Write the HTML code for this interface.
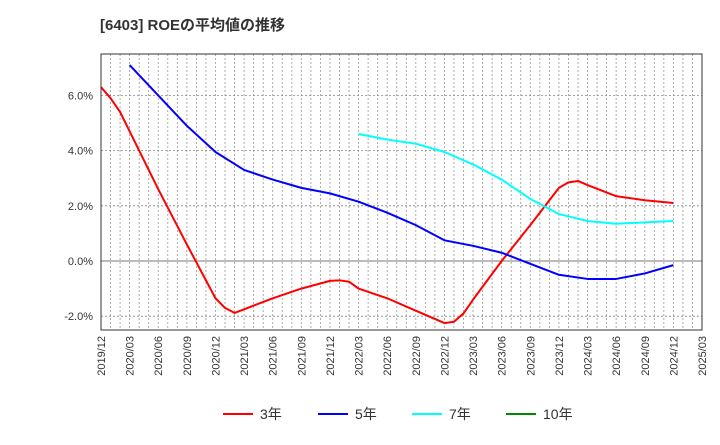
<!DOCTYPE html>
<html><head><meta charset="utf-8"><style>
body{margin:0;background:#fff;font-family:"Liberation Sans","Noto Sans CJK JP",sans-serif}
</style></head><body>
<svg id="c" width="720" height="440" xmlns="http://www.w3.org/2000/svg">
<text x="100" y="30" font-size="15" font-weight="bold" fill="#333" font-family="Liberation Sans,Noto Sans CJK JP,sans-serif">[6403]  ROEの平均値の推移</text>
<g id="grid"></g><g id="series"></g><g id="axes"></g><g id="legend"></g>
</svg>
<script>
const quarterLabels=["2019/12","2020/03","2020/06","2020/09","2020/12","2021/03","2021/06","2021/09","2021/12","2022/03","2022/06","2022/09","2022/12","2023/03","2023/06","2023/09","2023/12","2024/03","2024/06","2024/09","2024/12","2025/03"];
const yTicks=[-2,0,2,4,6];
const months3=[0,1,2,3,6,9,12,13,14,15,18,21,24,25,26,27,30,33,36,37,38,39,42,45,48,49,50,51,54,57,60];
const vals3=[6.3,5.9,5.4,4.7,2.6,0.6,-1.35,-1.7,-1.88,-1.75,-1.35,-1.0,-0.72,-0.7,-0.75,-1.0,-1.35,-1.8,-2.25,-2.2,-1.9,-1.4,0.0,1.3,2.65,2.85,2.9,2.75,2.35,2.2,2.1];
const months5=[3,6,9,12,15,18,21,24,27,30,33,36,39,42,45,48,51,54,57,60];
const vals5=[7.1,6.0,4.9,3.95,3.3,2.95,2.65,2.45,2.15,1.75,1.3,0.75,0.55,0.3,-0.1,-0.5,-0.65,-0.65,-0.45,-0.15];
const months7=[27,30,33,36,39,42,45,48,51,54,57,60];
const vals7=[4.6,4.4,4.25,3.95,3.5,2.95,2.25,1.7,1.45,1.35,1.4,1.45];
const L=101,R=702,T=54,B=330,yMin=-2.5,yMax=7.5,mMax=63;
const X=m=>L+(R-L)*m/mMax, Y=v=>B-(B-T)*(v-yMin)/(yMax-yMin);
const NS="http://www.w3.org/2000/svg";
function mk(t,a,p){const e=document.createElementNS(NS,t);for(const k in a)e.setAttribute(k,a[k]);p.appendChild(e);return e;}
const grid=document.getElementById('grid'),axes=document.getElementById('axes'),ser=document.getElementById('series'),leg=document.getElementById('legend');
for(let m=1;m<mMax;m++){const l=mk('line',{x1:X(m),x2:X(m),y1:T,y2:B,stroke:'#999','stroke-dasharray':'2,2','stroke-width':0.8},grid);

}
yTicks.forEach(v=>{const l=mk('line',{x1:L,x2:R,y1:Y(v),y2:Y(v),stroke:v===0?'#777':'#888','stroke-dasharray':v===0?'':'2,2','stroke-width':v===0?1:0.8},grid);


const t=mk('text',{x:L-8,y:Y(v)+4,'text-anchor':'end','font-size':11,fill:'#333'},axes);t.textContent=v.toFixed(1)+'%';

});
quarterLabels.forEach((s,i)=>{const x=X(i*3);const t=mk('text',{transform:`translate(${x+4},${B+6}) rotate(-90)`,'text-anchor':'end','font-size':11,fill:'#333'},axes);t.textContent=s;

});
const fr=mk('rect',{x:L,y:T,width:R-L,height:B-T,fill:'none',stroke:'#333','stroke-width':1},axes);


function line(ms,vs,c,n){const p=mk('polyline',{points:ms.map((m,i)=>X(m)+','+Y(vs[i])).join(' '),fill:'none',stroke:c,'stroke-width':2,'stroke-linejoin':'round'},ser);

}
line(months3,vals3,'#f00','line-3yr');line(months5,vals5,'#00f','line-5yr');line(months7,vals7,'#0ff','line-7yr');
[['3年','#f00',223],['5年','#00f',318],['7年','#0ff',412],['10年','#080',506]].forEach(([s,c,x])=>{
const l=mk('line',{x1:x,x2:x+30,y1:414,y2:414,stroke:c,'stroke-width':2},leg);


const t=mk('text',{x:x+37,y:419,'font-size':14,fill:'#333'},leg);t.textContent=s;

});
</script>
</body></html>
